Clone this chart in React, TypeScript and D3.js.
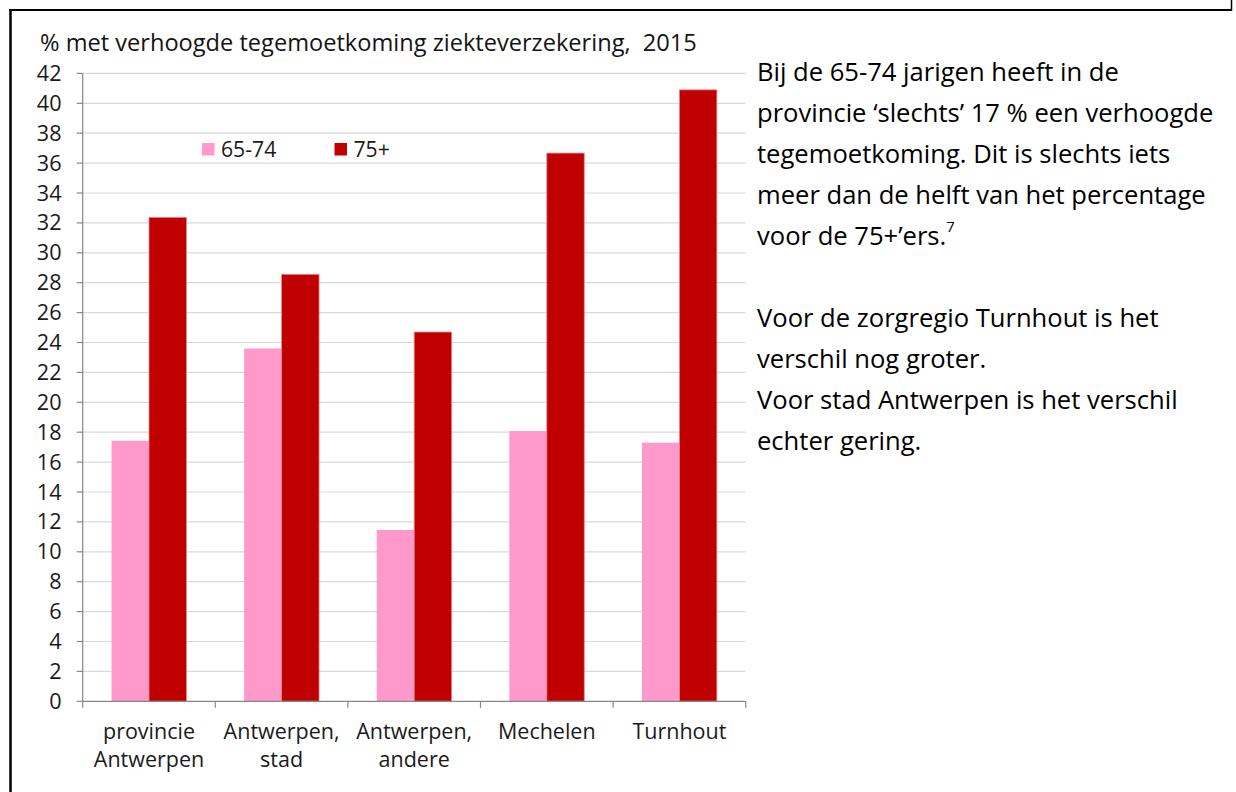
import React, { useLayoutEffect, useRef, useState } from "react";
import * as d3 from "d3";

const categories: string[][] = [
  ["provincie", "Antwerpen"],
  ["Antwerpen,", "stad"],
  ["Antwerpen,", "andere"],
  ["Mechelen"],
  ["Turnhout"],
];
const seriesNames = ["65-74", "75+"];
const values6574 = [17.43, 23.6, 11.46, 18.08, 17.3];
const values75 = [32.37, 28.56, 24.7, 36.67, 40.9];
const yTicks = d3.range(0, 43, 2);
const title = "% met verhoogde tegemoetkoming ziekteverzekering,  2015";
const paragraph1 = [
  "Bij de 65-74 jarigen heeft in de",
  "provincie \u2018slechts\u2019 17 % een verhoogde",
  "tegemoetkoming. Dit is slechts iets",
  "meer dan de helft van het percentage",
  "voor de 75+\u2019ers.",
];
const footnote = "7";
const paragraph2 = [
  "",
  "Voor de zorgregio Turnhout is het",
  "verschil nog groter.",
  "Voor stad Antwerpen is het verschil",
  "echter gering.",
];

const colors = ["#FF99CC", "#C00000"];
const FONT = "'Open Sans', 'Noto Sans', sans-serif";

// target rendered widths (px) of reference strings, used to pick font sizes
const fitTargets = { title: 657, para: 449, cat: 116, tick: 24.7, legend: 55.3 };

export default function App() {
  const W = 1236, H = 792;
  const left = 82.7, right = 745.7, top = 73.4, bottom = 701.3;
  const catKeys = categories.map((c) => c.join(" "));
  const x = d3.scaleBand<string>().domain(catKeys).range([left, right]).padding(0);
  const xs = d3.scaleBand<string>().domain(seriesNames).range([0, x.bandwidth()]).paddingInner(0).paddingOuter(0.77);
  const y = d3.scaleLinear().domain([0, 42]).range([bottom, top]);
  const series = [values6574, values75];
  const lines = [...paragraph1, ...paragraph2];
  const lineY = (i: number) => 80.5 + i * 41;
  const pre = { whiteSpace: "pre" as const };

  const measureRef = useRef<SVGGElement>(null);
  const [sizes, setSizes] = useState({ title: 20, para: 24, cat: 20, tick: 20, legend: 20 });
  useLayoutEffect(() => {
    const g = measureRef.current;
    if (!g) return;
    const get = (k: string) => (g.querySelector(`[data-k="${k}"]`) as SVGTextElement).getComputedTextLength();
    setSizes({
      title: (20 * fitTargets.title) / get("title"),
      para: (20 * fitTargets.para) / get("para"),
      cat: (20 * fitTargets.cat) / get("cat"),
      tick: (20 * fitTargets.tick) / get("tick"),
      legend: (20 * fitTargets.legend) / get("legend"),
    });
  }, []);

  return (
    <svg width={W} height={H} style={{ position: "absolute", left: 0, top: 0, background: "#fff" }} fontFamily={FONT}>
      <rect x={0} y={0} width={W} height={H} fill="#fff" />
      <g ref={measureRef} visibility="hidden">
        <text data-k="title" fontSize={20} style={pre}>{title}</text>
        <text data-k="para" fontSize={20}>{paragraph1[3]}</text>
        <text data-k="cat" fontSize={20}>{categories[1][0]}</text>
        <text data-k="tick" fontSize={20}>{String(yTicks[yTicks.length - 1])}</text>
        <text data-k="legend" fontSize={20}>{seriesNames[0]}</text>
      </g>
      {/* frame */}
      <line x1={10.5} y1={9} x2={10.5} y2={H} stroke="#000" strokeWidth={2.5} />
      <line x1={9} y1={10} x2={1232} y2={10} stroke="#000" strokeWidth={2} />
      <line x1={1231.5} y1={0} x2={1231.5} y2={11} stroke="#000" strokeWidth={1.5} />

      {/* title */}
      <text x={40} y={51} fontSize={sizes.title} fill="#141414" style={pre}>{title}</text>

      {/* gridlines */}
      {yTicks.filter((t) => t > 0).map((t) => (
        <line key={t} x1={left} x2={right} y1={y(t)} y2={y(t)} stroke="#D9D9D9" strokeWidth={1.2} />
      ))}

      {/* bars */}
      {series.map((vals, si) =>
        vals.map((v, ci) => (
          <rect
            key={`${si}-${ci}`}
            x={(x(catKeys[ci]) as number) + (xs(seriesNames[si]) as number)}
            y={y(v)}
            width={xs.bandwidth()}
            height={y(0) - y(v)}
            fill={colors[si]}
            stroke={si === 1 ? "#e88a8a" : "none"}
            strokeWidth={0.8}
          />
        ))
      )}

      {/* y axis */}
      <line x1={left} x2={left} y1={top} y2={bottom} stroke="#868686" strokeWidth={1.2} />
      {yTicks.map((t) => (
        <g key={t}>
          <line x1={left - 6} x2={left} y1={y(t)} y2={y(t)} stroke="#868686" strokeWidth={1.2} />
          <text x={61.5} y={y(t)} dy="0.35em" textAnchor="end" fontSize={sizes.tick} fill="#1a1a1a">{t}</text>
        </g>
      ))}

      {/* x axis */}
      <line x1={left} x2={right} y1={bottom} y2={bottom} stroke="#868686" strokeWidth={1.2} />
      {[...catKeys.map((k) => x(k) as number), right].map((px, i) => (
        <line key={i} x1={px} x2={px} y1={bottom} y2={bottom + 6.5} stroke="#868686" strokeWidth={1.2} />
      ))}
      {categories.map((c, ci) => (
        <text key={ci} textAnchor="middle" fontSize={sizes.cat} fill="#1a1a1a">
          {c.map((ln, li) => (
            <tspan key={li} x={(x(catKeys[ci]) as number) + x.bandwidth() / 2} y={739 + li * 28}>{ln}</tspan>
          ))}
        </text>
      ))}

      {/* legend */}
      {seriesNames.map((s, i) => {
        const lx = [202, 334.5][i];
        return (
          <g key={s}>
            <rect x={lx} y={143} width={12.5} height={12.5} fill={colors[i]} />
            <text x={lx + 19} y={149.3} dy="0.35em" fontSize={sizes.legend} fill="#1a1a1a">{s}</text>
          </g>
        );
      })}

      {/* side text */}
      {lines.map((ln, i) => (
        <text key={i} x={757} y={lineY(i)} fontSize={sizes.para} fill="#000">
          {ln}
          {i === paragraph1.length - 1 ? (
            <tspan fontSize={sizes.para * 0.58} dy={-sizes.para * 0.5}>{footnote}</tspan>
          ) : null}
        </text>
      ))}
    </svg>
  );
}
